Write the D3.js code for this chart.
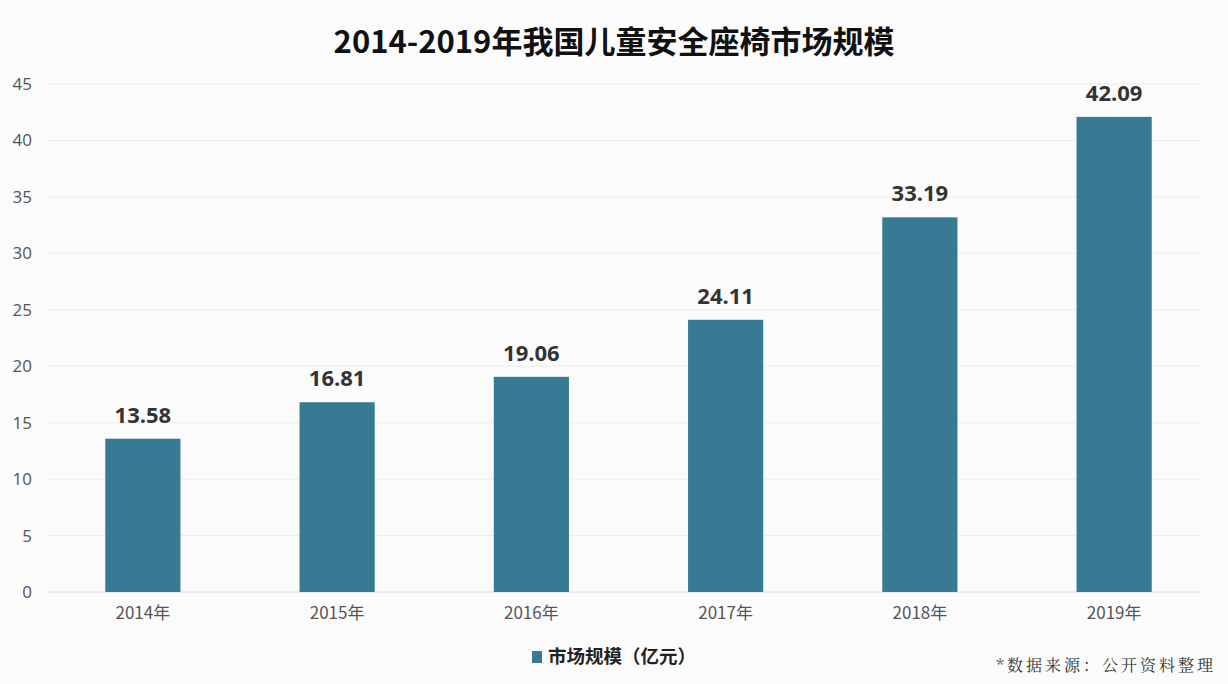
<!DOCTYPE html>
<html>
<head>
<meta charset="utf-8">
<script src="https://cdn.jsdelivr.net/npm/d3@7"></script>
<style>
  html, body { margin: 0; padding: 0; background: #fbfbfc; }
  svg { display: block; font-family: "Noto Sans CJK SC", "Noto Sans", sans-serif; }
</style>
</head>
<body>
<div id="chart"></div>
<script>
// data
const years = ["2014年", "2015年", "2016年", "2017年", "2018年", "2019年"];
const marketSize = [13.58, 16.81, 19.06, 24.11, 33.19, 42.09];
const yTicks = [0, 5, 10, 15, 20, 25, 30, 35, 40, 45];

const svgWidth = 1228;
const svgHeight = 684;

const marginTop = 84;
const marginLeft = 47;
const marginRight = 18;
const marginBottom = 92;

const width = svgWidth - marginLeft - marginRight;
const height = svgHeight - marginTop - marginBottom;

const svg = d3
  .select("#chart")
  .append("svg")
  .attr("width", svgWidth)
  .attr("height", svgHeight)
  .style("background", "#fbfbfc");

// title
svg
  .append("text")
  .attr("x", 614)
  .attr("y", 53)
  .style("text-anchor", "middle")
  .style("font-size", "31px")
  .style("font-weight", "bold")
  .attr("fill", "#111")
  .text("2014-2019年我国儿童安全座椅市场规模");

// scales
const xScale = d3
  .scaleBand()
  .domain(years)
  .range([0, width])
  .paddingInner(0.613)
  .paddingOuter(0.3);

const yScale = d3.scaleLinear().domain([0, 45]).range([height, 0]);

const chart = svg
  .append("g")
  .attr("transform", `translate(${marginLeft},${marginTop})`);

// gridlines
chart
  .append("g")
  .selectAll("line")
  .data(yTicks)
  .join("line")
  .attr("x1", 0)
  .attr("x2", width - 10)
  .attr("y1", (d) => yScale(d))
  .attr("y2", (d) => yScale(d))
  .attr("stroke", (d) => (d === 0 ? "#dcdcdc" : "#ececee"))
  .attr("stroke-width", 1);

// y axis
const yAxis = chart
  .append("g")
  .call(d3.axisLeft(yScale).tickValues(yTicks).tickSize(0).tickPadding(15))
  .call((g) => g.select(".domain").remove());
yAxis
  .selectAll("text")
  .style("font-family", "'Open Sans', 'Noto Sans', sans-serif")
  .style("font-size", "17px")
  .attr("fill", "#555");

// bars
chart
  .append("g")
  .selectAll("rect")
  .data(marketSize)
  .join("rect")
  .attr("x", (d, i) => xScale(years[i]))
  .attr("y", (d) => yScale(d))
  .attr("width", xScale.bandwidth())
  .attr("height", (d) => height - yScale(d))
  .attr("fill", "#387a93");

// value labels
chart
  .append("g")
  .selectAll("text")
  .data(marketSize)
  .join("text")
  .attr("x", (d, i) => xScale(years[i]) + xScale.bandwidth() / 2)
  .attr("y", (d) => yScale(d) - 16)
  .style("text-anchor", "middle")
  .style("font-family", "'Open Sans', 'Noto Sans', sans-serif")
  .style("font-size", "22px")
  .style("font-weight", "bold")
  .attr("fill", "#333")
  .text((d) => d.toFixed(2));

// x axis
const xAxis = chart
  .append("g")
  .attr("transform", `translate(0,${height})`)
  .call(d3.axisBottom(xScale).tickSize(0).tickPadding(15))
  .call((g) => g.select(".domain").remove());
xAxis
  .selectAll("text")
  .style("font-family", "'Noto Sans CJK SC', sans-serif")
  .style("font-size", "17px")
  .attr("fill", "#555");

// legend
const legend = svg.append("g").attr("transform", "translate(532,658)");
legend
  .append("rect")
  .attr("x", 0)
  .attr("y", -7)
  .attr("width", 10)
  .attr("height", 12)
  .attr("fill", "#387a93");
legend
  .append("text")
  .attr("x", 16)
  .attr("y", 0)
  .style("dominant-baseline", "middle")
  .style("font-size", "18.5px")
  .style("font-weight", "bold")
  .attr("fill", "#222")
  .text("市场规模（亿元）");

// source note
svg
  .append("text")
  .attr("x", 1216)
  .attr("y", 671)
  .style("text-anchor", "end")
  .style("font-family", "'Noto Serif CJK SC', 'Noto Sans CJK SC', serif")
  .style("font-size", "16px")
  .style("letter-spacing", "3px")
  .attr("fill", "#333")
  .text("*数据来源：公开资料整理");
</script>
</body>
</html>
